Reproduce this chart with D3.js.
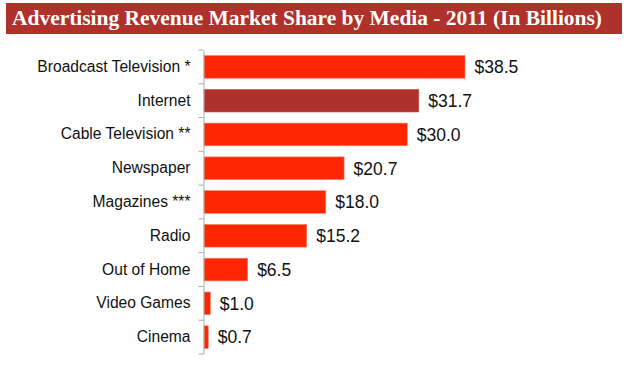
<!DOCTYPE html>
<html><head><meta charset="utf-8">
<script src="https://cdn.jsdelivr.net/npm/d3@7"></script>
<style>html,body{margin:0;padding:0;background:#fff;}</style>
</head><body>
<svg id="c" width="630" height="369"></svg>
<script>
const title = "Advertising Revenue Market Share by Media - 2011 (In Billions)";
const categories = ["Broadcast Television *","Internet","Cable Television **","Newspaper","Magazines ***","Radio","Out of Home","Video Games","Cinema"];
const values = [38.5,31.7,30.0,20.7,18.0,15.2,6.5,1.0,0.7];
const highlight = ["Internet"];

const svg = d3.select("#c");
svg.append("rect").attr("x",6).attr("y",3).attr("width",616).attr("height",31).attr("fill","#b0302a");
svg.append("text").attr("x",12).attr("y",25).attr("fill","#fff")
  .attr("font-family","'Liberation Serif', serif").attr("font-weight","bold").attr("font-size",20.5)
  .attr("textLength",590).attr("lengthAdjust","spacingAndGlyphs").text(title);

const x0 = 203.5;
const x = d3.scaleLinear().domain([0,38.5]).range([x0, 465]);
const y = d3.scaleBand().domain(categories).range([50,354]).paddingInner(0.33).paddingOuter(0.165);

const g = svg.append("g");
g.selectAll("rect.bar").data(categories).join("rect").attr("class","bar")
  .attr("x",x0+0.5).attr("y",d=>y(d)).attr("height",y.bandwidth())
  .attr("width",(d,i)=>x(values[i])-x0-0.5)
  .attr("fill",d=>highlight.includes(d)?"#b0302a":"#ff2600")
  .attr("stroke",d=>highlight.includes(d)?"#c85a52":"#ff7a66").attr("stroke-width",0.6);

g.selectAll("text.val").data(categories).join("text").attr("class","val")
  .attr("x",(d,i)=>x(values[i])+9.5).attr("y",d=>y(d)+y.bandwidth()/2).attr("dy","0.36em")
  .attr("font-family","'Liberation Sans', Arial, sans-serif").attr("font-size",17.5).attr("fill","#111")
  .text((d,i)=>"$"+values[i].toFixed(1));

const axis = d3.axisLeft(y).tickSize(0).tickPadding(13);
const ag = svg.append("g").attr("transform",`translate(${x0},0)`).call(axis);
ag.select(".domain").attr("stroke","#aaa");
ag.selectAll(".tick text").attr("font-family","'Liberation Sans', Arial, sans-serif").attr("font-size",15.6).attr("fill","#111");
const step = y.step();
const bounds = d3.range(categories.length+1).map(i=>50+i*step);
ag.selectAll("line.bt").data(bounds).join("line").attr("class","bt")
  .attr("x1",-5).attr("x2",0).attr("y1",d=>d).attr("y2",d=>d).attr("stroke","#aaa");
</script>
</body></html>
